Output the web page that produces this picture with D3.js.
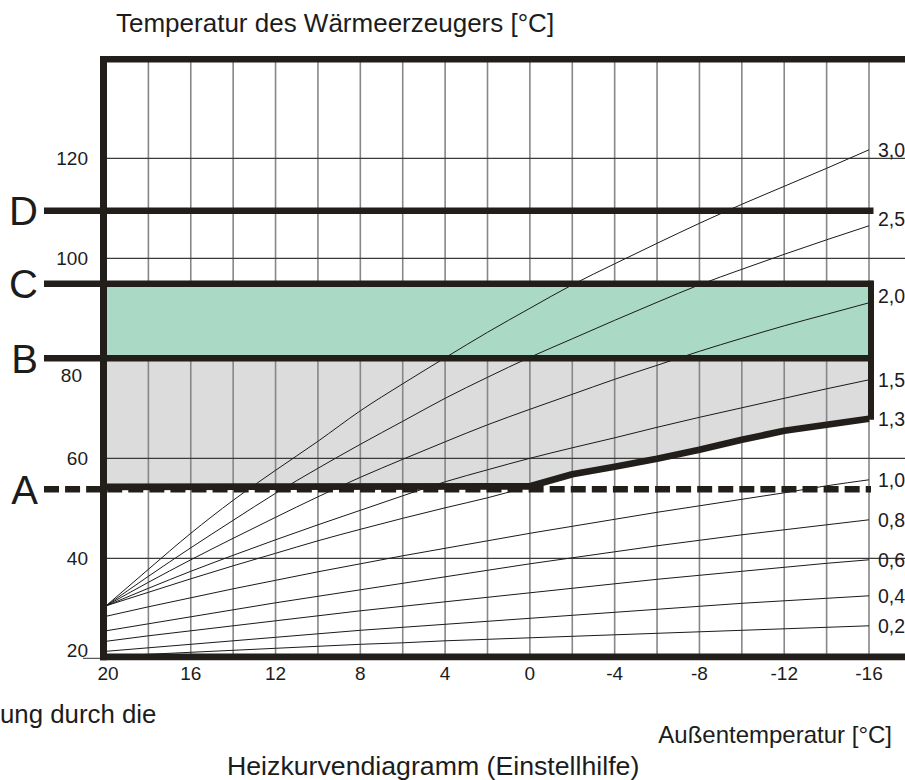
<!DOCTYPE html>
<html><head><meta charset="utf-8">
<script src="https://cdn.jsdelivr.net/npm/d3@7"></script>
<style>
body{margin:0;background:#fff}
svg{display:block}
text{font-family:"Liberation Sans",Arial,Helvetica,sans-serif;fill:#1c1c1c}
</style>
</head><body>
<svg id="c" width="905" height="780"></svg>
<script>
// ---- data ----
const outdoorTemps = [20,18,16,14,12,10,8,6,4,2,0,-2,-4,-6,-8,-10,-12,-14,-16];
const curveNames = ["0,2","0,4","0,6","0,8","1,0","1,3","1,5","2,0","2,5","3,0"];
const curve02 = [20.4,20.8,21.2,21.6,22,22.4,22.8,23.1,23.5,23.8,24.1,24.4,24.7,25,25.3,25.6,25.9,26.2,26.5];
const curve04 = [21.4,22.1,22.8,23.5,24.2,24.9,25.6,26.2,26.8,27.4,28,28.6,29.2,29.8,30.4,31,31.5,32,32.5];
const curve06 = [23.4,24.5,25.5,26.5,27.5,28.5,29.5,30.4,31.3,32.2,33.1,34,34.9,35.8,36.6,37.4,38.2,39,39.7];
const curve08 = [25.5,26.9,28.3,29.7,31.1,32.4,33.7,35,36.3,37.6,38.9,40.1,41.3,42.5,43.6,44.7,45.7,46.7,47.7];
const curve10 = [28.4,30.3,32.1,33.9,35.6,37.3,38.9,40.5,42,43.5,45,46.4,47.8,49.2,50.5,51.8,53.1,54.5,55.7];
const curve13 = [30.5,33.2,35.9,38.5,41,43.5,45.8,48,50.1,52.1,54.4,56.8,58.3,59.9,61.7,63.7,65.5,66.7,67.9];
const curve15 = [30.5,34,37.4,40.6,43.7,46.7,49.6,52.5,55.3,57.7,60,62.1,64.1,66.2,68.2,70.1,72,73.9,75.7];
const curve20 = [30.5,35.2,39.7,44,48.2,52.3,56.2,59.8,63.3,66.7,69.8,72.8,75.8,78.6,81.4,84,86.5,88.8,91.1];
const curve25 = [30.5,36.4,42.1,47.6,53,58,62.8,67.4,72,76.2,80.2,83.9,87.6,91.2,94.7,97.8,100.8,103.7,106.5];
const curve30 = [30.5,37.8,45,51.6,57.6,63.4,69.5,74.9,80.1,85.2,90,94.7,98.9,103,107,110.8,114.4,118,121.7];
const curveValues = [curve02,curve04,curve06,curve08,curve10,curve13,curve15,curve20,curve25,curve30];

const levelNames = ["A","B","C","D"];
const levelValues = [53.8, 80, 94.9, 109.5];

const boundaryTemps = [20,0,-2,-4,-6,-8,-10,-12,-14,-16];
const boundaryValues = [54.3,54.4,56.8,58.3,59.9,61.7,63.7,65.5,66.7,67.9];

const xTickValues = [20,16,12,8,4,0,-4,-8,-12,-16];
const xGridValues = [18,16,14,12,10,8,6,4,2,0,-2,-4,-6,-8,-10,-12,-14,-16];
const yTickValues = [20,40,60,80,100,120];
const yGridValues = [40,60,100,120];

const titleText = "Temperatur des Wärmeerzeugers [°C]";
const xAxisText = "Außentemperatur [°C]";
const captionText = "Heizkurvendiagramm (Einstellhilfe)";
const cutText = "ung durch die";

// ---- drawing ----
const svg = d3.select("#c");
const x = d3.scaleLinear().domain([20,-16]).range([106,869]);
const y = d3.scaleLinear().domain([20,140]).range([658.3,58.3]);
const ink = "#221e1a";

// gray band between boundary curve and B
const bData = boundaryTemps.map((t,i)=>({t, v:boundaryValues[i]}));
svg.append("path")
  .attr("d", d3.area().x(d=>x(d.t)).y0(d=>y(d.v)).y1(y(levelValues[1]))(bData))
  .attr("fill","#dcdcdc");

// vertical grid
svg.append("g").selectAll("line").data(xGridValues).join("line")
  .attr("x1",d=>x(d)).attr("x2",d=>x(d))
  .attr("y1",y(140)).attr("y2",y(20))
  .attr("stroke","#878787").attr("stroke-width",1.6);

// horizontal grid
svg.append("g").selectAll("line").data(yGridValues).join("line")
  .attr("x1",106).attr("x2",905)
  .attr("y1",d=>y(d)).attr("y2",d=>y(d))
  .attr("stroke","#3a3a3a").attr("stroke-width",1.2);

// green band between B and C
svg.append("rect")
  .attr("x",x(20)).attr("width",x(-16)-x(20))
  .attr("y",y(levelValues[2])).attr("height",y(levelValues[1])-y(levelValues[2]))
  .attr("fill","#aad9c6");

// heating curves
const line = d3.line().x(d=>x(d.t)).y(d=>y(d.v)).curve(d3.curveMonotoneX);
curveValues.forEach((vals,k)=>{
  const pts = outdoorTemps.map((t,i)=>({t, v:vals[i]}));
  svg.append("path").attr("d",line(pts))
    .attr("fill","none").attr("stroke","#1a1a1a").attr("stroke-width",1);
  const endV = vals[vals.length-1];
  const nudge = (curveNames[k]==="2,5"||curveNames[k]==="2,0") ? -7 : 0;
  svg.append("text").attr("x",878).attr("y",y(endV)+nudge)
    .attr("dy","0.36em").attr("font-size",19.5).text(curveNames[k]);
});

// small tick at 20 left of frame
svg.append("line").attr("x1",83).attr("x2",103).attr("y1",y(20)).attr("y2",y(20))
  .attr("stroke","#333").attr("stroke-width",1);

// frame
svg.append("line").attr("x1",103.5).attr("x2",103.5).attr("y1",56).attr("y2",660.3)
  .attr("stroke",ink).attr("stroke-width",7);
svg.append("line").attr("x1",100).attr("x2",905).attr("y1",y(140)+1).attr("y2",y(140)+1)
  .attr("stroke",ink).attr("stroke-width",6.6);
svg.append("line").attr("x1",100).attr("x2",905).attr("y1",y(20)-1.4).attr("y2",y(20)-1.4)
  .attr("stroke",ink).attr("stroke-width",6.6);

// level lines
levelNames.forEach((n,i)=>{
  const yy = y(levelValues[i]);
  const ln = svg.append("line").attr("x1",44).attr("x2", n==="A"?871:873.5)
    .attr("y1",yy).attr("y2",yy).attr("stroke",ink).attr("stroke-width",6.5);
  if(n==="A") ln.attr("stroke-dasharray","15,6.07");
  svg.append("text").attr("x",38).attr("y",yy).attr("dy","0.36em")
    .attr("text-anchor","end").attr("font-size",40).text(n);
});

// right vertical edge of regions
svg.append("line").attr("x1",871).attr("x2",871)
  .attr("y1",y(levelValues[2])-3).attr("y2",y(boundaryValues[boundaryValues.length-1])+1)
  .attr("stroke",ink).attr("stroke-width",6);

// thick boundary curve
svg.append("path").attr("d", d3.line().x(d=>x(d.t)).y(d=>y(d.v))(bData))
  .attr("fill","none").attr("stroke",ink).attr("stroke-width",6.7).attr("stroke-linejoin","round");

// y tick labels
svg.append("g").selectAll("text").data(yTickValues).join("text")
  .attr("x",d=> d===80?82:88).attr("y",d=> d===80? y(d)+17 : (d===20? y(d)-8 : y(d)))
  .attr("dy","0.36em").attr("text-anchor","end").attr("font-size",19).text(d=>d);

// x tick labels
svg.append("g").selectAll("text").data(xTickValues).join("text")
  .attr("x",d=>x(d)+ (d===20?2:0)).attr("y",680)
  .attr("text-anchor","middle").attr("font-size",19).text(d=>d);

// texts
svg.append("text").attr("x",116).attr("y",32).attr("font-size",26).text(titleText);
svg.append("text").attr("x",892).attr("y",743).attr("text-anchor","end").attr("font-size",24).text(xAxisText);
svg.append("text").attr("x",227).attr("y",775).attr("font-size",26.7).text(captionText);
svg.append("text").attr("x",0).attr("y",723).attr("font-size",25.8).text(cutText);
</script>
</body></html>
